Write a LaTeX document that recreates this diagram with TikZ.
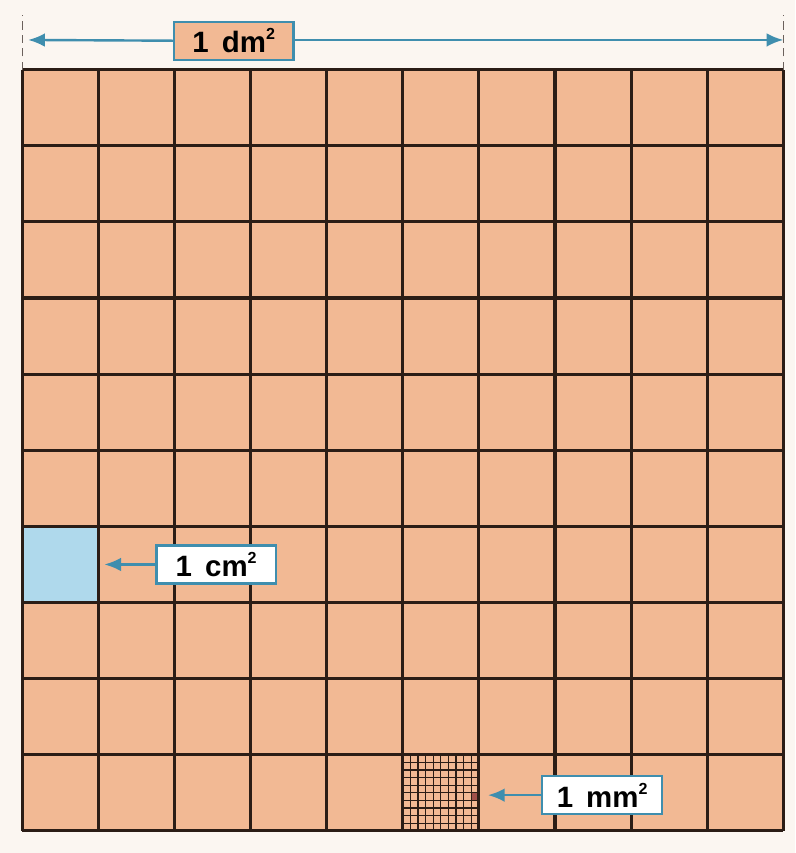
\documentclass[tikz,border=0pt]{standalone}
\usepackage{fontspec}
\setmainfont{Liberation Sans}
\usetikzlibrary{arrows.meta}
\definecolor{Paper}{HTML}{FBF6F1}
\definecolor{Peach}{HTML}{F2B994}
\definecolor{SkyBlue}{HTML}{AFD9EC}
\definecolor{Teal}{HTML}{3F8EAE}
\definecolor{Ink}{HTML}{2B1D16}
\definecolor{Rust}{HTML}{A0504A}
\newcommand{\squnit}{\raisebox{0.85ex}{\fontsize{6}{7}\selectfont 2}}

\begin{document}
\begin{tikzpicture}[
  cellline/.style={draw=Ink,line width=1.15pt},
  mmline/.style={draw=Ink,line width=0.45pt},
  tag/.style={
    draw=Teal,
    line width=0.8pt,
    minimum width=1.57cm,
    minimum height=0.5cm,
    inner sep=1pt,
    font=\fontsize{11}{13}\selectfont\bfseries
  },
  orangetag/.style={tag,fill=Peach},
  whitetag/.style={tag,fill=white},
  pointer/.style={-{Latex[length=2.2mm,width=1.8mm]},draw=Teal,line width=0.9pt},
  guide/.style={draw=Ink!70,densely dashed,line width=0.4pt}
]
  \useasboundingbox[fill=Paper] (-0.29,-0.29) rectangle (10.157,10.915);

  % the big square and its cells
  \fill[Peach] (0,0) rectangle (10,10);
  \fill[SkyBlue] (0,3) rectangle (1,4);
  \fill[Rust] (5.9,0.4) rectangle (6,0.5);
  \draw[mmline,step=0.1] (5,0) grid (6,1);
  \draw[cellline,step=1] (0,0) grid (10,10);

  % top measure
  \coordinate (dmleft) at (0,10.39);
  \coordinate (dmright) at (10,10.39);
  \draw[guide] (0,10) -- (0,10.72);
  \draw[guide] (10,10) -- (10,10.72);
  \node[orangetag] (dm) at (2.78,10.38) {1\;\,dm\squnit};
  \draw[pointer] (dm.west) -- ([xshift=0.08cm]dmleft);
  \draw[pointer] (dm.east |- dmright) -- (dmright);

  % labels inside the square
  \coordinate (cmtip) at (1.08,3.5);
  \coordinate (mmtip) at (6.12,0.47);
  \node[whitetag] (cm) at (2.55,3.5) {1\;\,cm\squnit};
  \node[whitetag] (mm) at (7.62,0.47) {1\;\,mm\squnit};
  \draw[pointer] (cm.west) -- (cmtip);
  \draw[pointer] (mm.west) -- (mmtip);
\end{tikzpicture}
\end{document}
